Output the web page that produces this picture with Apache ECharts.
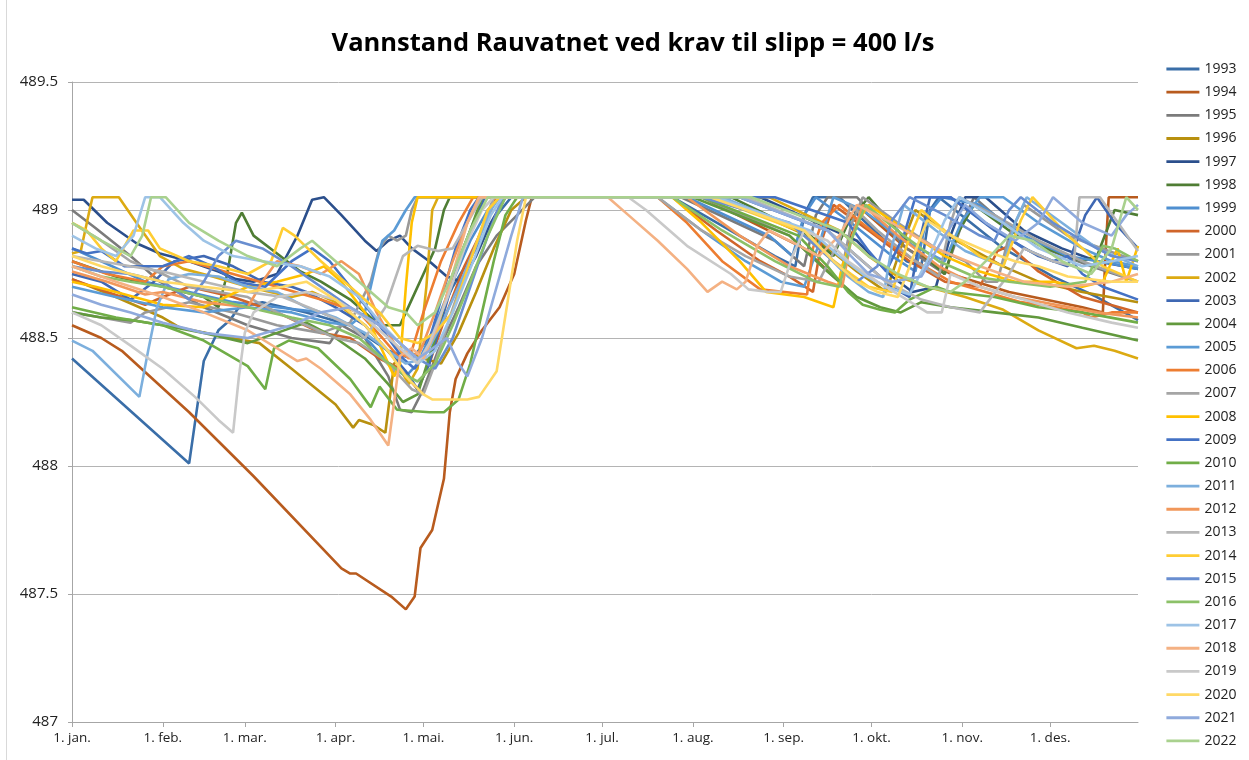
<!DOCTYPE html>
<html>
<head>
<meta charset="utf-8">
<script src="https://cdn.jsdelivr.net/npm/echarts@6/dist/echarts.min.js"></script>
<style>
html,body{margin:0;padding:0;background:#fff;}
#chart{width:1249px;height:760px;}
</style>
</head>
<body>
<div id="chart"></div>
<script>
// Categories (years) and x tick labels (day-of-year of month starts)
const years = ['1993','1994','1995','1996','1997','1998','1999','2000','2001','2002','2003','2004','2005','2006','2007','2008','2009','2010','2011','2012','2013','2014','2015','2016','2017','2018','2019','2020','2021','2022'];
const tickDays = [0,31,59,90,120,151,181,212,243,273,304,334];
const tickLabels = ['1. jan.','1. feb.','1. mar.','1. apr.','1. mai.','1. jun.','1. jul.','1. aug.','1. sep.','1. okt.','1. nov.','1. des.'];

// Series values: [day of year, water level (moh)]
const d1993 = [[0,488.42],[40,488.01],[45,488.41],[50,488.53],[54,488.57],[57,488.62],[65,488.64],[80,488.6],[95,488.55],[108,488.45],[116,488.42],[122,488.5],[130,488.7],[138,488.85],[145,488.98],[150,489.05],[205,489.05],[240,488.82],[247,488.78],[250,488.98],[253,489.05],[262,489.05],[285,488.8],[290,488.78],[293,489.0],[296,489.05],[318,488.85],[335,488.74],[350,488.66],[364,488.57]];
const d1994 = [[0,488.55],[10,488.5],[17,488.45],[40,488.21],[62,487.96],[92,487.6],[95,487.58],[97,487.58],[109,487.49],[114,487.44],[117,487.49],[119,487.68],[123,487.75],[127,487.95],[129,488.21],[131,488.34],[135,488.44],[140,488.53],[146,488.62],[151,488.75],[155,488.96],[157,489.05],[215,489.05],[250,488.85],[262,488.72],[266,488.9],[270,489.0],[285,488.85],[300,488.75],[320,488.68],[345,488.62],[352,488.6],[353,488.85],[354,489.05],[364,489.05]];
const d1995 = [[0,489.0],[8,488.93],[20,488.82],[30,488.72],[45,488.62],[60,488.55],[75,488.5],[88,488.48],[92,488.55],[100,488.5],[108,488.35],[112,488.22],[116,488.21],[120,488.3],[125,488.45],[132,488.62],[138,488.78],[145,488.9],[152,488.98],[158,489.05],[208,489.05],[240,488.88],[250,488.78],[254,488.98],[258,489.05],[268,489.05],[285,488.85],[298,488.75],[304,488.95],[308,489.05],[318,488.95],[332,488.85],[348,488.78],[364,488.72]];
const d1996 = [[0,488.73],[15,488.66],[31,488.58],[37,488.54],[50,488.51],[64,488.48],[75,488.38],[90,488.24],[96,488.15],[98,488.18],[103,488.16],[107,488.13],[110,488.4],[114,488.45],[120,488.42],[126,488.4],[132,488.52],[138,488.68],[144,488.85],[150,489.0],[155,489.05],[222,489.05],[255,488.88],[268,488.76],[278,488.68],[283,488.85],[288,489.0],[302,488.88],[318,488.78],[330,488.72],[345,488.68],[364,488.64]];
const d1997 = [[0,489.04],[4,489.04],[12,488.95],[22,488.87],[30,488.83],[40,488.8],[50,488.76],[56,488.73],[62,488.72],[70,488.75],[77,488.9],[82,489.04],[86,489.05],[92,488.98],[100,488.88],[104,488.84],[108,488.88],[112,488.9],[116,488.85],[122,488.8],[128,488.74],[133,488.72],[138,488.82],[143,488.95],[148,489.05],[235,489.05],[268,488.88],[280,488.74],[287,488.68],[295,488.7],[300,488.9],[305,489.05],[312,489.05],[325,488.92],[338,488.85],[350,488.8],[364,488.77]];
const d1998 = [[0,488.8],[15,488.74],[31,488.7],[45,488.66],[50,488.62],[53,488.75],[56,488.95],[58,488.99],[62,488.9],[70,488.83],[78,488.76],[85,488.72],[95,488.65],[105,488.55],[112,488.55],[116,488.65],[120,488.75],[124,488.85],[127,489.0],[129,489.05],[225,489.05],[252,488.9],[260,488.82],[265,488.95],[272,489.05],[285,488.88],[298,488.75],[302,488.9],[308,489.02],[320,488.92],[335,488.84],[345,488.8],[350,488.82],[356,489.0],[364,488.98]];
const d1999 = [[0,488.85],[10,488.8],[25,488.72],[40,488.68],[55,488.64],[70,488.62],[85,488.6],[95,488.55],[102,488.48],[108,488.4],[114,488.35],[118,488.4],[124,488.55],[130,488.72],[136,488.88],[142,489.0],[146,489.05],[210,489.05],[238,488.9],[246,488.82],[250,488.98],[254,489.05],[266,488.95],[280,488.82],[288,488.76],[292,488.98],[297,489.05],[310,489.02],[325,488.9],[340,488.82],[355,488.79],[364,488.77]];
const d2000 = [[0,488.73],[12,488.68],[25,488.63],[31,488.66],[40,488.7],[55,488.66],[70,488.6],[85,488.52],[95,488.5],[105,488.42],[112,488.38],[118,488.3],[122,488.4],[128,488.6],[134,488.78],[140,488.92],[145,489.05],[205,489.05],[220,488.92],[235,488.8],[245,488.74],[253,488.68],[256,488.88],[260,489.02],[272,488.92],[286,488.8],[298,488.72],[310,488.7],[316,488.84],[320,488.86],[330,488.76],[345,488.66],[364,488.6]];
const d2001 = [[0,488.6],[10,488.58],[20,488.56],[25,488.6],[40,488.64],[55,488.6],[70,488.55],[85,488.52],[95,488.56],[102,488.72],[105,488.85],[108,488.9],[111,488.88],[114,488.9],[116,489.0],[118,489.05],[215,489.05],[245,488.9],[256,488.78],[262,488.72],[266,488.94],[270,489.05],[282,488.95],[295,488.85],[305,488.8],[312,488.72],[316,488.72],[320,488.9],[325,489.02],[340,488.9],[354,488.84],[364,488.8]];
const d2002 = [[0,488.83],[3,488.84],[6,489.0],[7,489.05],[16,489.05],[22,488.95],[30,488.82],[38,488.77],[48,488.74],[60,488.7],[75,488.66],[82,488.68],[90,488.64],[100,488.55],[110,488.42],[115,488.32],[118,488.38],[121,488.7],[123,489.0],[125,489.05],[238,489.05],[262,488.92],[272,488.82],[282,488.74],[292,488.7],[305,488.66],[318,488.61],[330,488.53],[343,488.46],[349,488.47],[356,488.45],[364,488.42]];
const d2003 = [[0,488.75],[10,488.72],[20,488.65],[28,488.72],[35,488.8],[45,488.82],[55,488.78],[65,488.72],[75,488.7],[80,488.68],[90,488.62],[100,488.55],[108,488.45],[114,488.37],[118,488.3],[122,488.4],[127,488.6],[132,488.8],[137,488.95],[141,489.05],[228,489.05],[258,488.92],[270,488.8],[280,488.7],[286,488.66],[289,488.86],[293,489.05],[300,489.05],[315,488.92],[330,488.82],[340,488.78],[346,488.98],[350,489.05],[356,488.95],[364,488.85]];
const d2004 = [[0,488.6],[10,488.58],[20,488.57],[31,488.55],[45,488.52],[60,488.48],[70,488.52],[80,488.56],[90,488.5],[100,488.42],[108,488.32],[113,488.25],[118,488.28],[124,488.5],[130,488.75],[136,488.92],[140,489.05],[212,489.05],[245,488.9],[258,488.76],[268,488.66],[276,488.62],[283,488.6],[290,488.64],[300,488.62],[315,488.6],[330,488.58],[345,488.54],[364,488.49]];
const d2005 = [[0,488.7],[15,488.66],[31,488.62],[45,488.6],[60,488.62],[75,488.6],[88,488.56],[95,488.55],[100,488.6],[104,488.8],[106,488.88],[110,488.92],[114,489.0],[117,489.05],[200,489.05],[215,488.92],[230,488.8],[242,488.72],[250,488.7],[256,488.9],[260,489.05],[270,489.0],[284,488.88],[298,488.8],[304,488.96],[310,489.05],[318,489.05],[330,488.95],[345,488.85],[355,488.8],[364,488.78]];
const d2006 = [[0,488.8],[12,488.75],[25,488.72],[31,488.78],[40,488.8],[55,488.75],[70,488.7],[85,488.65],[98,488.6],[106,488.5],[112,488.42],[116,488.45],[120,488.6],[126,488.8],[132,488.95],[137,489.05],[200,489.05],[210,488.95],[222,488.8],[235,488.69],[251,488.67],[253,488.85],[256,488.95],[262,489.02],[275,488.9],[288,488.8],[300,488.72],[312,488.68],[324,488.64],[336,488.62],[345,488.6],[348,488.58],[355,488.6],[364,488.6]];
const d2007 = [[0,488.95],[10,488.88],[20,488.8],[31,488.75],[40,488.7],[50,488.68],[60,488.66],[70,488.6],[80,488.55],[90,488.5],[98,488.48],[106,488.42],[112,488.35],[116,488.3],[120,488.28],[124,488.4],[129,488.58],[134,488.75],[139,488.9],[144,489.05],[200,489.05],[215,488.92],[230,488.82],[245,488.74],[255,488.72],[262,488.88],[266,489.02],[275,488.92],[288,488.8],[296,488.74],[300,488.95],[303,489.05],[315,488.98],[330,488.88],[345,488.8],[364,488.72]];
const d2008 = [[0,488.72],[8,488.7],[15,488.68],[31,488.63],[45,488.62],[60,488.7],[70,488.72],[80,488.75],[86,488.78],[92,488.72],[100,488.6],[106,488.45],[110,488.35],[112,488.4],[114,488.7],[116,488.95],[118,489.05],[205,489.05],[215,488.95],[228,488.8],[237,488.68],[250,488.66],[260,488.62],[263,488.78],[268,488.95],[272,489.02],[285,488.92],[298,488.82],[310,488.76],[322,488.72],[335,488.72],[345,488.7],[352,488.72],[357,488.85],[360,488.72],[364,488.86]];
const d2009 = [[0,488.85],[5,488.83],[10,488.84],[18,488.78],[31,488.78],[40,488.82],[48,488.78],[56,488.72],[66,488.7],[75,488.8],[82,488.85],[88,488.8],[95,488.7],[102,488.6],[108,488.5],[113,488.42],[117,488.38],[121,488.45],[126,488.65],[131,488.85],[136,489.0],[139,489.05],[240,489.05],[265,488.95],[272,488.84],[278,488.76],[284,488.9],[288,489.05],[300,489.05],[312,488.95],[325,488.85],[335,488.8],[340,488.82],[345,488.75],[352,488.7],[364,488.65]];
const d2010 = [[0,488.62],[15,488.58],[31,488.55],[45,488.49],[60,488.39],[66,488.3],[69,488.46],[74,488.49],[84,488.46],[95,488.34],[102,488.23],[105,488.31],[111,488.22],[122,488.21],[127,488.21],[132,488.26],[136,488.4],[140,488.6],[144,488.8],[148,488.98],[152,489.05],[215,489.05],[248,488.9],[258,488.78],[265,488.68],[270,488.63],[276,488.61],[281,488.6],[286,488.65],[295,488.7],[300,488.68],[315,488.66],[330,488.62],[345,488.6],[364,488.56]];
const d2011 = [[0,488.49],[7,488.45],[23,488.27],[26,488.45],[29,488.62],[33,488.73],[40,488.75],[50,488.74],[60,488.7],[70,488.68],[80,488.62],[90,488.58],[100,488.52],[108,488.45],[114,488.4],[120,488.42],[126,488.55],[132,488.7],[138,488.86],[143,489.0],[146,489.05],[222,489.05],[250,488.92],[258,488.82],[265,488.74],[272,488.68],[277,488.66],[280,488.86],[284,489.02],[295,488.92],[305,488.84],[318,488.78],[322,488.95],[326,489.05],[338,488.95],[350,488.85],[364,488.78]];
const d2012 = [[0,488.76],[12,488.72],[25,488.67],[31,488.68],[45,488.64],[60,488.62],[65,488.72],[70,488.8],[78,488.78],[85,488.75],[92,488.8],[98,488.75],[104,488.6],[110,488.48],[115,488.42],[119,488.45],[124,488.6],[130,488.8],[135,488.95],[139,489.05],[210,489.05],[228,488.9],[245,488.78],[258,488.72],[263,488.7],[266,488.88],[270,489.02],[282,488.9],[296,488.78],[310,488.7],[322,488.66],[336,488.63],[350,488.6],[364,488.58]];
const d2013 = [[0,488.82],[10,488.8],[20,488.78],[31,488.76],[45,488.72],[60,488.68],[72,488.66],[85,488.6],[95,488.55],[100,488.5],[107,488.62],[113,488.82],[118,488.86],[125,488.84],[130,488.85],[135,488.95],[140,489.05],[230,489.05],[258,488.92],[268,488.82],[278,488.72],[290,488.65],[300,488.62],[310,488.6],[320,488.75],[325,488.85],[335,488.8],[342,488.78],[344,489.05],[351,489.05],[364,488.84]];
const d2014 = [[0,488.95],[5,488.92],[10,488.85],[15,488.8],[19,488.88],[21,488.92],[26,488.92],[30,488.85],[40,488.8],[50,488.78],[60,488.75],[68,488.8],[72,488.93],[76,488.9],[85,488.8],[95,488.7],[105,488.6],[112,488.5],[118,488.48],[124,488.52],[130,488.6],[136,488.8],[142,489.0],[146,489.05],[218,489.05],[248,488.92],[258,488.82],[266,488.75],[272,488.7],[280,488.68],[285,488.86],[290,489.0],[298,488.92],[310,488.82],[318,488.78],[324,488.96],[328,489.05],[340,488.9],[352,488.78],[364,488.72]];
const d2015 = [[0,488.78],[10,488.76],[20,488.75],[31,488.72],[40,488.65],[45,488.72],[50,488.82],[56,488.88],[65,488.85],[75,488.78],[85,488.7],[95,488.62],[105,488.55],[112,488.48],[118,488.42],[124,488.38],[130,488.5],[136,488.7],[142,488.9],[147,489.05],[215,489.05],[245,488.95],[255,488.85],[262,488.78],[268,488.72],[275,488.78],[280,488.96],[286,489.05],[298,488.98],[310,488.9],[315,488.88],[320,489.0],[324,489.05],[335,488.95],[345,488.88],[355,488.82],[364,488.8]];
const d2016 = [[0,488.78],[10,488.74],[20,488.72],[31,488.7],[45,488.66],[60,488.62],[75,488.58],[88,488.55],[98,488.5],[106,488.42],[113,488.36],[118,488.33],[124,488.4],[130,488.55],[136,488.72],[142,488.9],[148,489.05],[205,489.05],[222,488.92],[240,488.8],[254,488.72],[262,488.7],[266,488.88],[271,489.02],[284,488.9],[296,488.8],[308,488.74],[320,488.72],[334,488.7],[346,488.72],[352,488.86],[356,488.85],[364,488.8]];
const d2017 = [[0,488.9],[8,488.85],[15,488.82],[21,488.9],[25,489.05],[30,489.05],[38,488.95],[45,488.88],[55,488.82],[65,488.8],[78,488.78],[88,488.74],[98,488.66],[106,488.55],[112,488.48],[118,488.4],[124,488.45],[130,488.6],[137,488.8],[143,488.98],[147,489.05],[220,489.05],[252,488.92],[262,488.82],[270,488.75],[278,488.7],[286,488.67],[292,488.8],[298,488.96],[303,489.05],[318,488.95],[330,488.85],[345,488.78],[355,488.8],[364,488.82]];
const d2018 = [[0,488.78],[15,488.72],[31,488.66],[45,488.6],[60,488.53],[70,488.46],[77,488.41],[80,488.42],[85,488.38],[95,488.28],[102,488.18],[108,488.08],[110,488.25],[112,488.43],[116,488.46],[120,488.42],[125,488.55],[130,488.75],[135,488.95],[139,489.05],[183,489.05],[190,488.98],[200,488.88],[210,488.77],[217,488.68],[222,488.72],[227,488.69],[230,488.72],[234,488.86],[238,488.92],[245,488.88],[255,488.82],[262,488.9],[268,489.02],[280,488.95],[295,488.85],[310,488.78],[325,488.72],[340,488.7],[355,488.72],[364,488.75]];
const d2019 = [[0,488.6],[10,488.55],[20,488.47],[31,488.38],[42,488.27],[50,488.18],[55,488.13],[57,488.35],[59,488.52],[62,488.6],[70,488.66],[80,488.68],[90,488.65],[100,488.58],[108,488.5],[113,488.45],[118,488.4],[122,488.48],[128,488.65],[134,488.85],[140,489.0],[144,489.05],[190,489.05],[196,489.0],[210,488.86],[225,488.75],[231,488.69],[238,488.68],[242,488.68],[246,488.82],[250,488.92],[258,488.88],[265,488.8],[275,488.72],[285,488.65],[292,488.6],[297,488.6],[300,488.75],[310,488.7],[325,488.65],[340,488.6],[355,488.56],[364,488.54]];
const d2020 = [[0,488.82],[10,488.78],[20,488.75],[31,488.72],[45,488.7],[60,488.68],[72,488.7],[80,488.72],[90,488.65],[100,488.55],[108,488.45],[114,488.35],[120,488.28],[123,488.26],[135,488.26],[139,488.27],[145,488.37],[149,488.66],[152,488.88],[155,489.05],[218,489.05],[250,488.92],[260,488.8],[268,488.72],[275,488.68],[282,488.66],[288,488.84],[292,488.96],[300,488.9],[312,488.84],[322,488.8],[330,488.78],[340,488.74],[355,488.72],[364,488.72]];
const d2021 = [[0,488.67],[10,488.63],[20,488.6],[31,488.56],[45,488.52],[60,488.5],[75,488.55],[85,488.6],[95,488.62],[105,488.55],[112,488.48],[118,488.42],[122,488.45],[128,488.5],[132,488.4],[135,488.35],[140,488.5],[145,488.7],[150,488.9],[154,489.05],[228,489.05],[258,488.92],[266,488.82],[272,488.75],[280,488.72],[290,488.74],[298,488.9],[305,489.02],[312,488.95],[322,488.88],[330,488.95],[335,489.05],[345,488.95],[355,488.9],[360,488.98],[364,489.02]];
const d2022 = [[0,488.95],[10,488.88],[20,488.82],[24,488.9],[27,489.05],[32,489.05],[40,488.95],[50,488.88],[60,488.82],[70,488.78],[78,488.85],[82,488.88],[90,488.8],[100,488.7],[108,488.62],[114,488.6],[118,488.55],[124,488.6],[130,488.75],[136,488.92],[142,489.05],[232,489.05],[262,488.92],[272,488.82],[282,488.75],[292,488.7],[300,488.68],[305,488.72],[312,488.8],[320,488.9],[328,488.88],[338,488.8],[348,488.75],[355,488.85],[360,489.05],[364,489.0]];

const seriesValues = [d1993,d1994,d1995,d1996,d1997,d1998,d1999,d2000,d2001,d2002,d2003,d2004,d2005,d2006,d2007,d2008,d2009,d2010,d2011,d2012,d2013,d2014,d2015,d2016,d2017,d2018,d2019,d2020,d2021,d2022];

const colors = ['#3A6EA8','#B85B1E','#7B7B7B','#B8900F','#2B4F8C','#4F7D34',
                '#4F8FD0','#D0652A','#999999','#DCAA12','#3F68B3','#62993D',
                '#5B9BD5','#ED7D31','#A5A5A5','#FFC000','#4472C4','#70AD47',
                '#7CAFDD','#F1975A','#B7B7B7','#FFCD33','#698ED0','#8CC168',
                '#9DC3E6','#F4B183','#C9C9C9','#FFD966','#8FAADC','#A9D18E'];

const chart = echarts.init(document.getElementById('chart'), null, {renderer:'canvas'});
const font = "'Open Sans', 'Liberation Sans', sans-serif";

chart.setOption({
  animation: false,
  color: colors,
  title: {
    text: 'Vannstand Rauvatnet ved krav til slipp = 400 l/s',
    left: 628, top: 26, textAlign: 'center',
    textStyle: {fontFamily: font, fontWeight: 'bold', fontSize: 25.5, color: '#000'}
  },
  graphic: [{type:'line', shape:{x1:6.5,y1:0,x2:6.5,y2:760}, style:{stroke:'#d9d9d9', lineWidth:1}, silent:true}],
  grid: {left: 72, right: 111, top: 82, bottom: 38, containLabel: false},
  legend: {
    orient: 'vertical', left: 1165, top: 62, padding: 0,
    itemWidth: 33, itemHeight: 14, itemGap: 9.17,
    itemStyle: {opacity: 0},
    lineStyle: {width: 2.8},
    textStyle: {fontFamily: font, fontSize: 14, color: '#222'},
    data: years
  },
  xAxis: {
    type: 'value', min: 0, max: 364,
    splitLine: {show: false},
    axisLine: {show: true, lineStyle: {color: '#a6a6a6', width: 1}},
    axisTick: {show: true, length: 5, lineStyle: {color: '#a6a6a6'}, customValues: tickDays},
    axisLabel: {
      fontFamily: font, fontSize: 13.5, color: '#222', margin: 9,
      customValues: tickDays,
      formatter: function(v){ const i = tickDays.indexOf(Math.round(v)); return i >= 0 ? tickLabels[i] : ''; }
    }
  },
  yAxis: {
    type: 'value', min: 487, max: 489.5, interval: 0.5,
    axisLine: {show: true, lineStyle: {color: '#a6a6a6', width: 1}},
    axisTick: {show: true, length: 4, lineStyle: {color: '#a6a6a6'}},
    splitLine: {show: true, lineStyle: {color: '#b4b4b4', width: 1}},
    axisLabel: {fontFamily: font, fontSize: 15, color: '#222', margin: 14,
      formatter: function(v){ return String(+v.toFixed(1)); }}
  },
  series: years.map(function(y, i){
    return {
      name: y, type: 'line', data: seriesValues[i],
      symbol: 'none', showSymbol: false, smooth: false,
      lineStyle: {width: 2.6, color: colors[i]},
      itemStyle: {color: colors[i]},
      emphasis: {disabled: true}
    };
  })
});
</script>
</body>
</html>
